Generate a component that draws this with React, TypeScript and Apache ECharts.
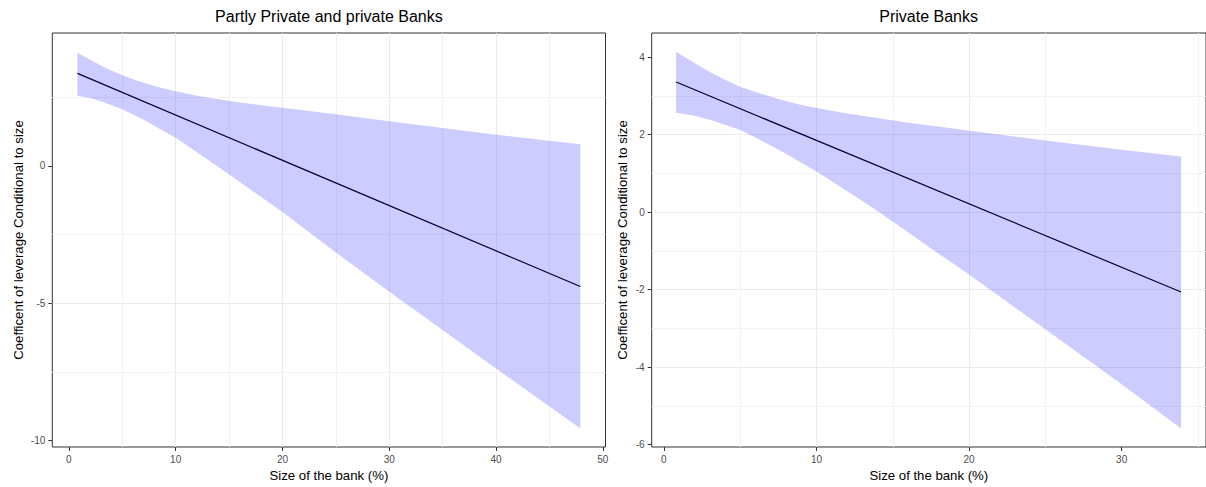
import React, { useEffect, useRef } from "react";
import * as echarts from "echarts";

// ---- texts ----
const leftTitle = "Partly Private and private Banks";
const rightTitle = "Private Banks";
const xAxisTitle = "Size of the bank (%)";
const yAxisTitle = "Coefficent of leverage Conditional to size";

// ---- left panel data ----
const leftX = [0.8, 2, 3, 4, 5, 6, 7, 8, 9, 10, 12, 14, 16, 18, 20, 25, 30, 35, 40, 45, 47.9];
const leftUpper = [4.12, 3.87, 3.66, 3.47, 3.31, 3.16, 3.03, 2.91, 2.81, 2.72, 2.56, 2.43, 2.31, 2.21, 2.12, 1.88, 1.63, 1.38, 1.14, 0.92, 0.79];
const leftLower = [2.56, 2.47, 2.36, 2.21, 2.06, 1.87, 1.68, 1.46, 1.24, 1.03, 0.5, -0.04, -0.58, -1.13, -1.68, -3.15, -4.58, -5.97, -7.37, -8.76, -9.55];
const leftLineX = [0.8, 47.9];
const leftLineY = [3.37, -4.39];

// ---- right panel data ----
const rightX = [0.8, 2, 3, 4, 5, 6, 7, 8, 9, 10, 12, 14, 16, 18, 20, 25, 30, 33.9];
const rightUpper = [4.14, 3.85, 3.62, 3.42, 3.24, 3.1, 2.98, 2.87, 2.77, 2.69, 2.55, 2.43, 2.31, 2.21, 2.1, 1.85, 1.61, 1.44];
const rightLower = [2.57, 2.49, 2.39, 2.26, 2.12, 1.93, 1.72, 1.51, 1.28, 1.05, 0.55, 0.03, -0.52, -1.07, -1.61, -3.02, -4.44, -5.58];
const rightLineX = [0.8, 33.9];
const rightLineY = [3.36, -2.06];

// ---- ticks ----
const leftXTicks = [0, 10, 20, 30, 40, 50];
const leftYTicks = [-10, -5, 0];
const rightXTicks = [0, 10, 20, 30];
const rightYTicks = [-6, -4, -2, 0, 2, 4];
const leftXMinor = [5, 15, 25, 35, 45];
const leftYMinor = [-7.5, -2.5, 2.5];
const rightXMinor = [5, 15, 25, 35];
const rightYMinor = [-5, -3, -1, 1, 3];

const FONT = "'Liberation Sans', Arial, sans-serif";

const GRID_TOP = 33;
const GRID_H = 414;
const L_LEFT = 52.3;
const L_W = 553.2;
const R_LEFT = 651.7;
const R_W = 557.8;

function xAxisCfg(gridIndex: number, min: number, max: number, iv: number, ticks: number[]) {
  return {
    type: "value",
    gridIndex,
    min,
    max,
    minInterval: iv,
    maxInterval: iv,
    name: xAxisTitle,
    nameLocation: "middle",
    nameGap: 19,
    nameTextStyle: { fontSize: 13.2, color: "#000", fontFamily: FONT },
    axisLine: { show: false, onZero: false },
    axisTick: { show: true, length: 4, lineStyle: { color: "#333", width: 1 }, customValues: ticks },
    axisLabel: { customValues: ticks, margin: 7, fontSize: 10, color: "#4d4d4d", fontFamily: FONT },
    splitLine: { show: true, showMinLine: false, showMaxLine: false, lineStyle: { color: "#ebebeb", width: 1 } },
  };
}

function yAxisCfg(gridIndex: number, min: number, max: number, iv: number, ticks: number[], gap: number) {
  return {
    type: "value",
    gridIndex,
    min,
    max,
    minInterval: iv,
    maxInterval: iv,
    name: yAxisTitle,
    nameLocation: "middle",
    nameGap: gap,
    nameRotate: 90,
    nameTextStyle: { fontSize: 13.2, color: "#000", fontFamily: FONT },
    axisLine: { show: false, onZero: false },
    axisTick: { show: true, length: 4, lineStyle: { color: "#333", width: 1 }, customValues: ticks },
    axisLabel: { customValues: ticks, margin: 7, fontSize: 10, color: "#4d4d4d", fontFamily: FONT },
    splitLine: { show: true, showMinLine: false, showMaxLine: false, lineStyle: { color: "#ebebeb", width: 1 } },
  };
}

function ribbon(idx: number, xs: number[], up: number[], lo: number[]) {
  return {
    type: "custom",
    xAxisIndex: idx,
    yAxisIndex: idx,
    z: 3,
    silent: true,
    clip: true,
    data: xs.map((x, i) => [x, up[i], lo[i]]),
    encode: { x: 0, y: [1, 2] },
    renderItem: (params: any, api: any) => {
      if (params.dataIndex !== 0) return null;
      const top = xs.map((x, i) => api.coord([x, up[i]]));
      const bot = xs.map((x, i) => api.coord([x, lo[i]])).reverse();
      return {
        type: "polygon",
        shape: { points: top.concat(bot) },
        style: { fill: "rgba(0,0,255,0.2)", stroke: null },
      };
    },
  };
}

function lineSeries(idx: number, xs: number[], ys: number[], minorX: number[], minorY: number[]) {
  return {
    type: "line",
    xAxisIndex: idx,
    yAxisIndex: idx,
    z: 2,
    silent: true,
    symbol: "none",
    showSymbol: false,
    data: xs.map((x, i) => [x, ys[i]]),
    lineStyle: { color: "#000", width: 1.2 },
    markLine: {
      silent: true,
      z: 1,
      symbol: ["none", "none"],
      label: { show: false },
      emphasis: { disabled: true },
      lineStyle: { color: "#f3f3f3", width: 1, type: "solid" },
      data: [...minorX.map((v) => ({ xAxis: v })), ...minorY.map((v) => ({ yAxis: v }))],
    },
  };
}

export default function App() {
  const ref = useRef<HTMLDivElement>(null);
  useEffect(() => {
    document.body.style.margin = "0";
    const chart = echarts.init(ref.current!, null, { renderer: "svg" });
    chart.setOption({
      animation: false,
      backgroundColor: "#fff",
      grid: [
        { left: L_LEFT, top: GRID_TOP, width: L_W, height: GRID_H, show: true, borderColor: "#333", borderWidth: 1, backgroundColor: "#fff" },
        { left: R_LEFT, top: GRID_TOP, width: R_W, height: GRID_H, show: true, borderColor: "#333", borderWidth: 1, backgroundColor: "#fff" },
      ],
      xAxis: [xAxisCfg(0, -1.555, 50.255, 10, leftXTicks), xAxisCfg(1, -0.8, 35.53, 10, rightXTicks)],
      yAxis: [yAxisCfg(0, -10.23, 4.84, 5, leftYTicks, 27.5), yAxisCfg(1, -6.06, 4.626, 2, rightYTicks, 22.5)],
      graphic: [
        {
          type: "text",
          x: L_LEFT + L_W / 2,
          y: 16,
          style: { text: leftTitle, fontSize: 16, fill: "#000", fontFamily: FONT, textAlign: "center", textVerticalAlign: "middle" },
        },
        {
          type: "text",
          x: R_LEFT + R_W / 2 - 2,
          y: 16,
          style: { text: rightTitle, fontSize: 16, fill: "#000", fontFamily: FONT, textAlign: "center", textVerticalAlign: "middle" },
        },
      ],
      series: [
        lineSeries(0, leftLineX, leftLineY, leftXMinor, leftYMinor),
        ribbon(0, leftX, leftUpper, leftLower),
        lineSeries(1, rightLineX, rightLineY, rightXMinor, rightYMinor),
        ribbon(1, rightX, rightUpper, rightLower),
      ],
    });
    return () => chart.dispose();
  }, []);
  return <div ref={ref} style={{ width: 1206, height: 487 }} />;
}
